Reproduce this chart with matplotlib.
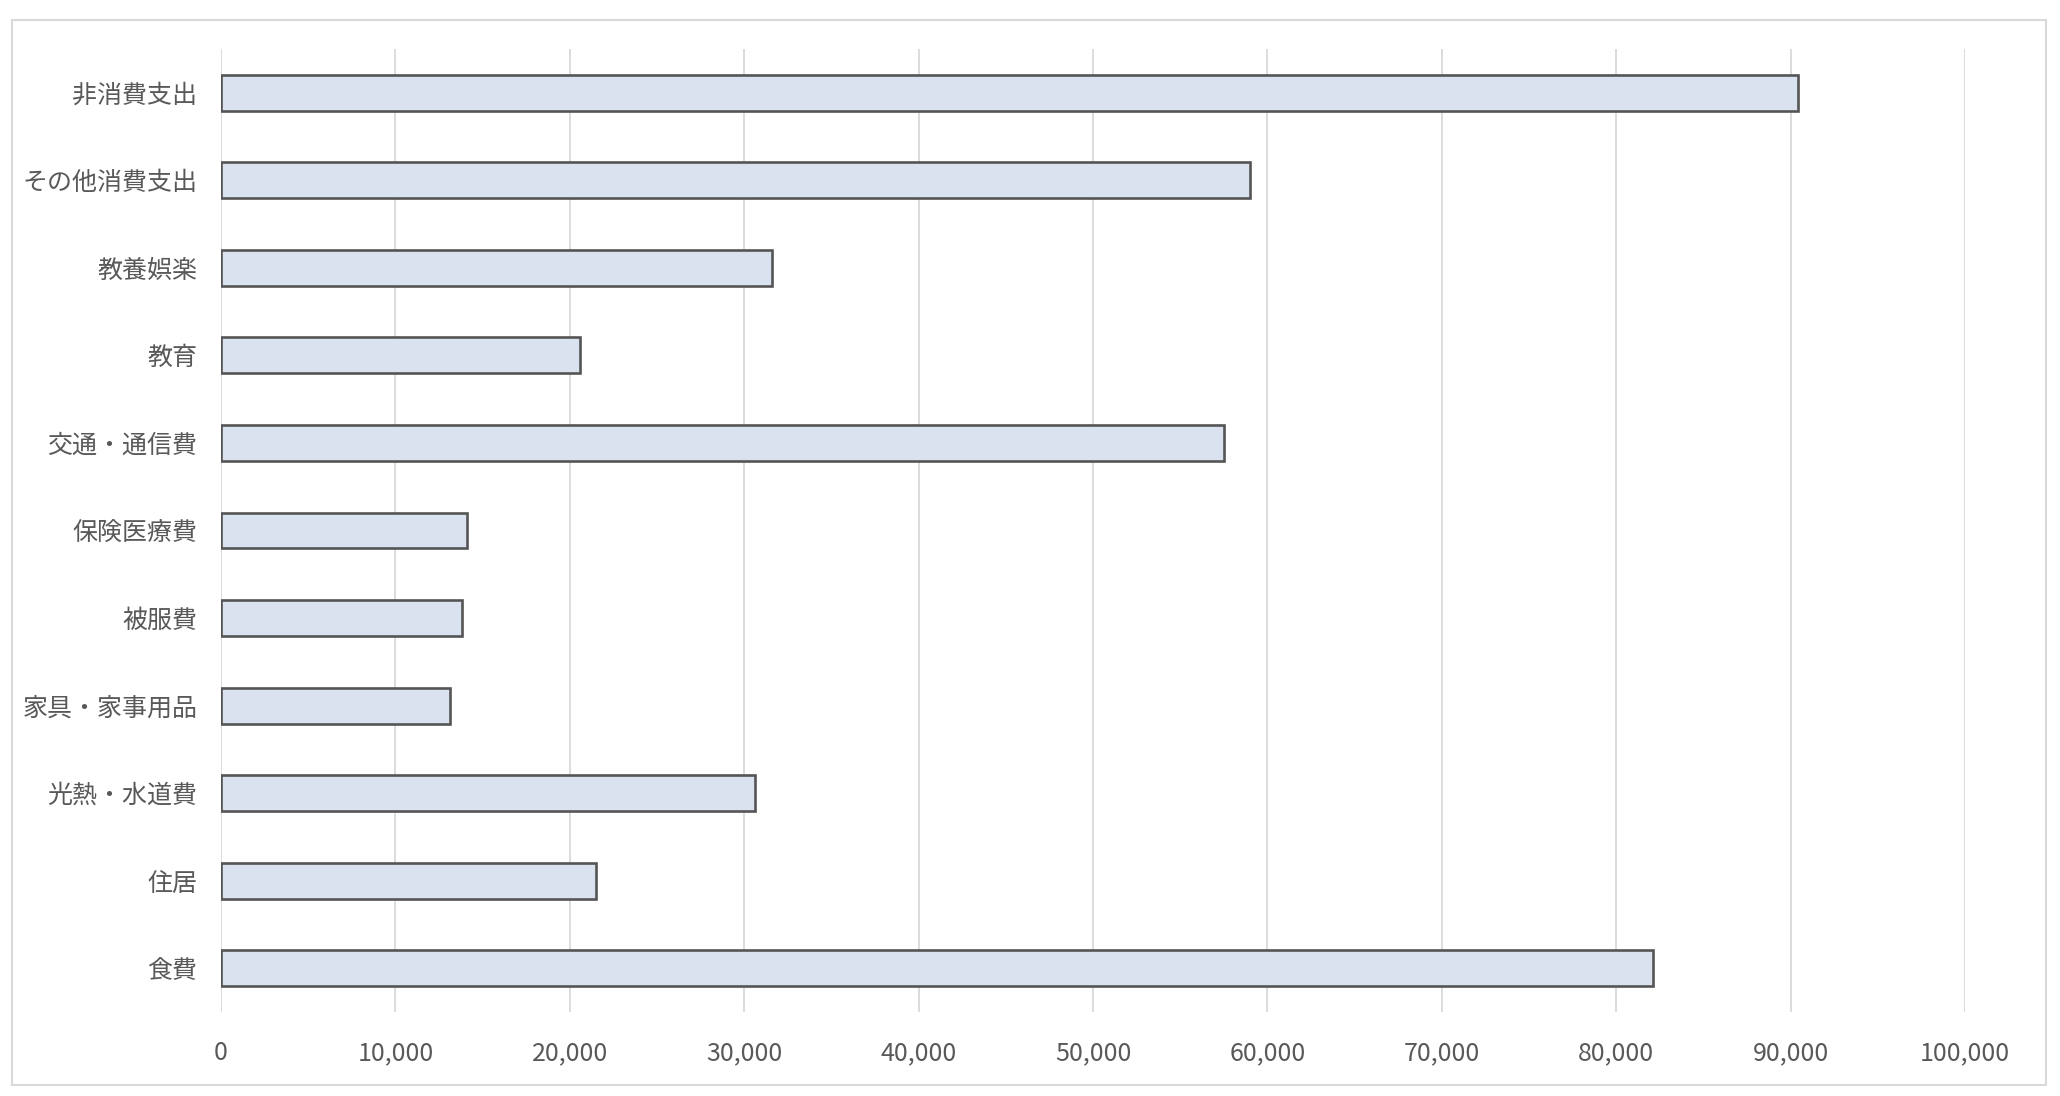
import matplotlib
matplotlib.use("Agg")
import matplotlib.pyplot as plt
from matplotlib.patches import Rectangle

plt.rcParams['font.family'] = ['Noto Sans CJK JP', 'DejaVu Sans']

# data (bottom to top)
categories = ["食費", "住居", "光熱・水道費", "家具・家事用品", "被服費", "保険医療費",
              "交通・通信費", "教育", "教養娯楽", "その他消費支出", "非消費支出"]
values = [82100, 21500, 30600, 13100, 13800, 14100, 57500, 20600, 31600, 59000, 90400]
xticks = [0, 10000, 20000, 30000, 40000, 50000, 60000, 70000, 80000, 90000, 100000]

fig = plt.figure(figsize=(20.6, 10.96), dpi=100)
ax = fig.add_axes([0.1073, 0.0766, 0.8466, 0.8787])

# outer chart border
fig.patches.append(Rectangle((0.006, 0.01), 0.987, 0.972, transform=fig.transFigure,
                             fill=False, edgecolor="#d9d9d9", linewidth=1.5))

ax.barh(range(len(categories)), values, height=0.41, color="#dae1ef",
        edgecolor="#555555", linewidth=1.9, zorder=3)

ax.set_xlim(0, 100000)
ax.set_ylim(-0.5, len(categories) - 0.5)
ax.set_xticks(xticks)
ax.set_xticklabels([f"{v:,}" for v in xticks])
ax.set_yticks(range(len(categories)))
ax.set_yticklabels(categories)

ax.grid(axis="x", color="#d9d9d9", linewidth=1.3, zorder=0)
for s in ax.spines.values():
    s.set_visible(False)
ax.tick_params(axis="both", length=0, labelsize=18, labelcolor="#595959")
ax.tick_params(axis="x", pad=20)
ax.tick_params(axis="y", pad=17)

plt.savefig("out.png", dpi=100)
